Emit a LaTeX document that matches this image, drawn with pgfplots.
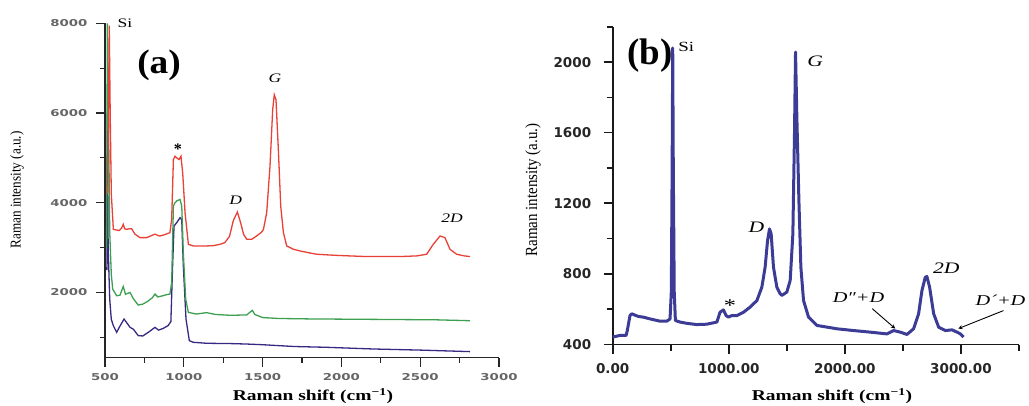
\documentclass[border=0pt]{standalone}
\usepackage{fontspec}
\setmainfont{Liberation Serif}
\usepackage{pgfplots}
\pgfplotsset{compat=1.18}
\newfontfamily\tickA[FakeStretch=1.4]{DejaVu Sans}
\newfontfamily\tickB{DejaVu Sans}
\newfontfamily\labf[FakeStretch=1.3]{Liberation Serif}
\newfontfamily\ylabf[FakeStretch=0.88]{Liberation Serif}
\newfontfamily\annf[FakeStretch=1.35]{Liberation Serif}
\newfontfamily\bigf[FakeStretch=1.1]{Liberation Serif}
\definecolor{cred}{RGB}{232,65,55}
\definecolor{cgreen}{RGB}{60,160,80}
\definecolor{cpurp}{RGB}{55,40,130}
\definecolor{cblue}{RGB}{60,60,150}
\begin{document}
\begin{tikzpicture}
\useasboundingbox (0,0) rectangle (1029pt,405pt);
% ---------------- panel (a)
\begin{axis}[at={(105pt,47.5pt)}, anchor=south west, scale only axis,
  width=394pt, height=334.2pt,
  xmin=500, xmax=3000, ymin=550, ymax=8000,
  axis x line*=bottom, axis y line*=left,
  axis line style={-, line width=1.2pt, black!85},
  tick align=outside, major tick length=9pt, minor tick length=5pt,
  tick style={line width=1.2pt, black!85},
  xtick={500,1000,1500,2000,2500,3000}, xticklabels={500,1000,1500,2000,2500,3000},
  minor xtick={750,1250,1750,2250,2750},
  ytick={2000,4000,6000,8000}, yticklabels={2000,4000,6000,8000},
  minor ytick={1000,3000,5000,7000},
  ticklabel style={font=\tickA\bfseries\fontsize{9.5}{11}\selectfont, text=black!60},
  xticklabel style={yshift=-3pt}, yticklabel style={xshift=-5pt},
  clip=false]
\addplot[cpurp, line width=1.3pt] coordinates {
(512,2500) (515,6000) (520,3000) (530,1852) (540,1400) (553,1259) (574,1111) (595,1250) (621,1407) (637,1330) (659,1222) (680,1180) (711,1037) (740,1030) (770,1100) (790,1150) (817,1222) (840,1160) (870,1200) (900,1260) (918,1350) (929,2593) (938,3481) (955,3556) (976,3667) (987,3620) (997,2593) (1014,1407) (1035,926) (1060,889) (1145,867) (1300,860) (1400,850) (1500,835) (1600,815) (1700,795) (1900,778) (2200,740) (2500,715) (2816,681)};
\addplot[cgreen, line width=1.3pt] coordinates {
(510,3000) (515,8000) (522,6000) (530,3333) (540,2400) (549,2074) (574,1926) (595,1940) (616,2133) (630,1960) (659,2000) (680,1860) (711,1719) (740,1740) (770,1800) (800,1880) (817,1963) (835,1900) (860,1920) (890,1950) (912,1963) (923,2222) (934,3926) (944,4000) (955,4040) (976,4074) (987,3926) (997,2889) (1012,1850) (1029,1556) (1080,1519) (1145,1550) (1200,1510) (1300,1490) (1400,1500) (1420,1560) (1435,1600) (1450,1510) (1500,1440) (1600,1420) (1800,1410) (2200,1400) (2600,1390) (2816,1370)};
\addplot[cred, line width=1.3pt] coordinates {
(518,4200) (527,7950) (533,6000) (540,4200) (553,3407) (563,3400) (590,3380) (605,3430) (616,3520) (625,3420) (637,3407) (655,3420) (669,3420) (690,3300) (722,3222) (764,3222) (790,3260) (817,3300) (835,3270) (849,3259) (880,3290) (912,3333) (923,3630) (934,4963) (944,5037) (955,5000) (970,4963) (982,5037) (993,4667) (1008,3778) (1029,3074) (1060,3037) (1100,3037) (1145,3037) (1190,3045) (1230,3074) (1260,3110) (1290,3250) (1314,3600) (1340,3793) (1360,3560) (1380,3290) (1400,3185) (1431,3185) (1462,3259) (1490,3333) (1505,3400) (1526,3778) (1547,4815) (1564,6074) (1574,6407) (1585,6296) (1600,5185) (1615,3926) (1632,3333) (1653,3037) (1695,2963) (1737,2926) (1800,2880) (1843,2852) (1949,2830) (2050,2815) (2160,2800) (2372,2800) (2478,2815) (2541,2852) (2583,3074) (2626,3259) (2657,3222) (2689,2963) (2731,2852) (2780,2815) (2816,2800)};
\node[font=\annf\fontsize{13}{14}\selectfont] at (axis cs:627,8000) {Si};
\node[font=\bigf\bfseries\fontsize{34}{36}\selectfont] at (axis cs:843,7071) {(a)};
\node[font=\annf\itshape\fontsize{13}{14}\selectfont] at (axis cs:1579,6780) {G};
\node[font=\bfseries\fontsize{16}{16}\selectfont] at (axis cs:963,5200) {*};
\node[font=\annf\itshape\fontsize{13}{14}\selectfont] at (axis cs:1330,4066) {D};
\node[font=\annf\itshape\fontsize{13}{14}\selectfont] at (axis cs:2702,3662) {2D};
\end{axis}
% ---------------- panel (b)
\begin{axis}[at={(612.7pt,60.5pt)}, anchor=south west, scale only axis,
  width=406.3pt, height=317.7pt,
  xmin=0, xmax=3500, ymin=400, ymax=2200,
  axis x line*=bottom, axis y line*=left,
  axis line style={-, line width=1.6pt, black!90},
  tick align=outside, major tick length=9pt, minor tick length=6pt,
  tick style={line width=1.6pt, black!90},
  xtick={0,1000,2000,3000}, xticklabels={0.00,1000.00,2000.00,3000.00},
  minor xtick={500,1500,2500,3500},
  ytick={400,800,1200,1600,2000}, yticklabels={400,800,1200,1600,2000},
  minor ytick={600,1000,1400,1800,2200},
  ticklabel style={font=\tickB\bfseries\fontsize{13.5}{15}\selectfont, text=black!85},
  xticklabel style={yshift=-6pt}, yticklabel style={xshift=-9pt},
  clip=false]
\addplot[cblue, line width=3pt, line join=round] coordinates {
(0,442) (60,451) (115,451) (126,480) (149,564) (164,574) (193,566) (221,559) (264,555) (322,545) (408,532) (466,532) (494,545) (505,700) (512,1400) (517,2080) (522,1400) (530,700) (540,536) (581,527) (638,520) (724,513) (810,515) (897,527) (925,583) (954,596) (977,564) (997,555) (1026,564) (1069,564) (1127,583) (1184,612) (1242,649) (1285,725) (1313,838) (1334,989) (1351,1055) (1365,1027) (1385,838) (1414,725) (1440,690) (1457,678) (1500,697) (1529,763) (1552,1027) (1566,1594) (1575,2057) (1586,1700) (1604,1216) (1621,838) (1644,649) (1687,555) (1759,508) (1931,489) (2075,479) (2219,470) (2362,460) (2420,479) (2477,470) (2535,457) (2592,489) (2635,574) (2664,706) (2693,782) (2707,785) (2730,725) (2765,574) (2808,498) (2865,479) (2923,483) (2966,470) (2995,460) (3023,442)};
\node[font=\bfseries\fontsize{37}{38}\selectfont] at (axis cs:322,2038) {(b)};
\node[font=\annf\fontsize{14}{15}\selectfont, anchor=west, inner sep=1pt] at (axis cs:555,2085) {Si};
\node[font=\annf\itshape\fontsize{16}{17}\selectfont] at (axis cs:1745,2007) {G};
\node[font=\annf\itshape\fontsize{16}{17}\selectfont] at (axis cs:1237,1064) {D};
\node[font=\annf\fontsize{18}{18}\selectfont] at (axis cs:1011,623) {*};
\node[font=\annf\itshape\fontsize{16}{17}\selectfont] at (axis cs:2873,833) {2D};
\node[font=\annf\itshape\fontsize{15}{16}\selectfont] at (axis cs:2117,667) {D″+D};
\node[font=\annf\itshape\fontsize{15}{16}\selectfont] at (axis cs:3341,650) {D´+D};
\draw[-stealth, line width=0.9pt] (axis cs:2236,603) -- (axis cs:2434,490);
\draw[-stealth, line width=0.9pt] (axis cs:3366,592) -- (axis cs:2977,490);
\end{axis}
% ---------------- axis titles
\node[font=\labf\bfseries\fontsize{15}{16}\selectfont] at (313pt,8.5pt) {Raman shift (cm\textsuperscript{−1})};
\node[font=\labf\bfseries\fontsize{15}{16}\selectfont] at (832pt,8.5pt) {Raman shift (cm\textsuperscript{−1})};
\node[font=\ylabf\fontsize{15}{16}\selectfont, rotate=90] at (17pt,215pt) {Raman intensity (a.u.)};
\node[font=\ylabf\fontsize{17}{18}\selectfont, rotate=90] at (533pt,215pt) {Raman intensity (a.u.)};
\end{tikzpicture}
\end{document}
